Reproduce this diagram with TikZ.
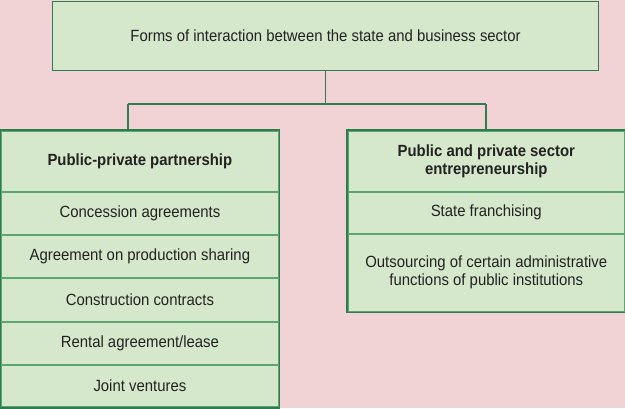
\documentclass[tikz,border=0pt]{standalone}
\usepackage{fontspec}
\setmainfont[FakeStretch=0.92]{Liberation Sans}
\definecolor{bgpink}{HTML}{F1D3D6}
\definecolor{boxfill}{HTML}{D5E8CB}
\definecolor{edge}{HTML}{2F7D4F}
\definecolor{divc}{HTML}{5CA56F}
\definecolor{txt}{HTML}{222222}
\begin{document}
\begin{tikzpicture}[x=1pt,y=-1pt,
  cell/.style={draw=divc, line width=1.6pt, fill=boxfill, inner sep=0pt,
    minimum width=277pt, font=\fontsize{16.2}{18.5}\selectfont, text=txt,
    align=center, anchor=north west},
  frame/.style={draw=edge, line width=1.1pt},
  link/.style={draw=edge, line width=1.1pt}]
\fill[bgpink] (0,0) rectangle (625,408);
\useasboundingbox (0,0) rectangle (625,408);
% top box
\node[cell, draw=edge, line width=1.1pt, minimum width=546pt, minimum height=69pt] (top) at (52,0.6)
  {Forms of interaction between the state and business sector};
% left column
\node[cell, minimum height=61pt, font=\fontsize{16.2}{18.5}\selectfont\bfseries] (lh) at (0.6,130) {Public-private partnership};
\node[cell, minimum height=43pt] (l1) at (0.6,191) {Concession agreements};
\node[cell, minimum height=43pt] (l2) at (0.6,234) {Agreement on production sharing};
\node[cell, minimum height=44pt] (l3) at (0.6,277) {Construction contracts};
\node[cell, minimum height=43pt] (l4) at (0.6,321) {Rental agreement/lease};
\node[cell, minimum height=42.4pt] (l5) at (0.6,364) {Joint ventures};
\draw[frame] (lh.north west) rectangle (l5.south east);
% right column
\node[cell, minimum height=61pt, font=\fontsize{16.2}{18.5}\selectfont\bfseries] (rh) at (347,130) {Public and private sector\\entrepreneurship};
\node[cell, minimum height=42pt] (r1) at (347,191) {State franchising};
\node[cell, minimum height=78pt] (r2) at (347,233)
  {\raisebox{6pt}{\begin{tabular}{@{}c@{}}Outsourcing of certain administrative\\[-1pt]functions of public institutions\end{tabular}}};
\draw[frame] (rh.north west) rectangle (r2.south east);
% connectors
\coordinate (jl) at (128,104);
\coordinate (jr) at (486,104);
\draw[link] (top.south) -- (top.south |- jl);
\draw[link] (jl) -- (jr);
\draw[link] (jl) -- (jl |- lh.north);
\draw[link] (jr) -- (jr |- rh.north);
\end{tikzpicture}
\end{document}
